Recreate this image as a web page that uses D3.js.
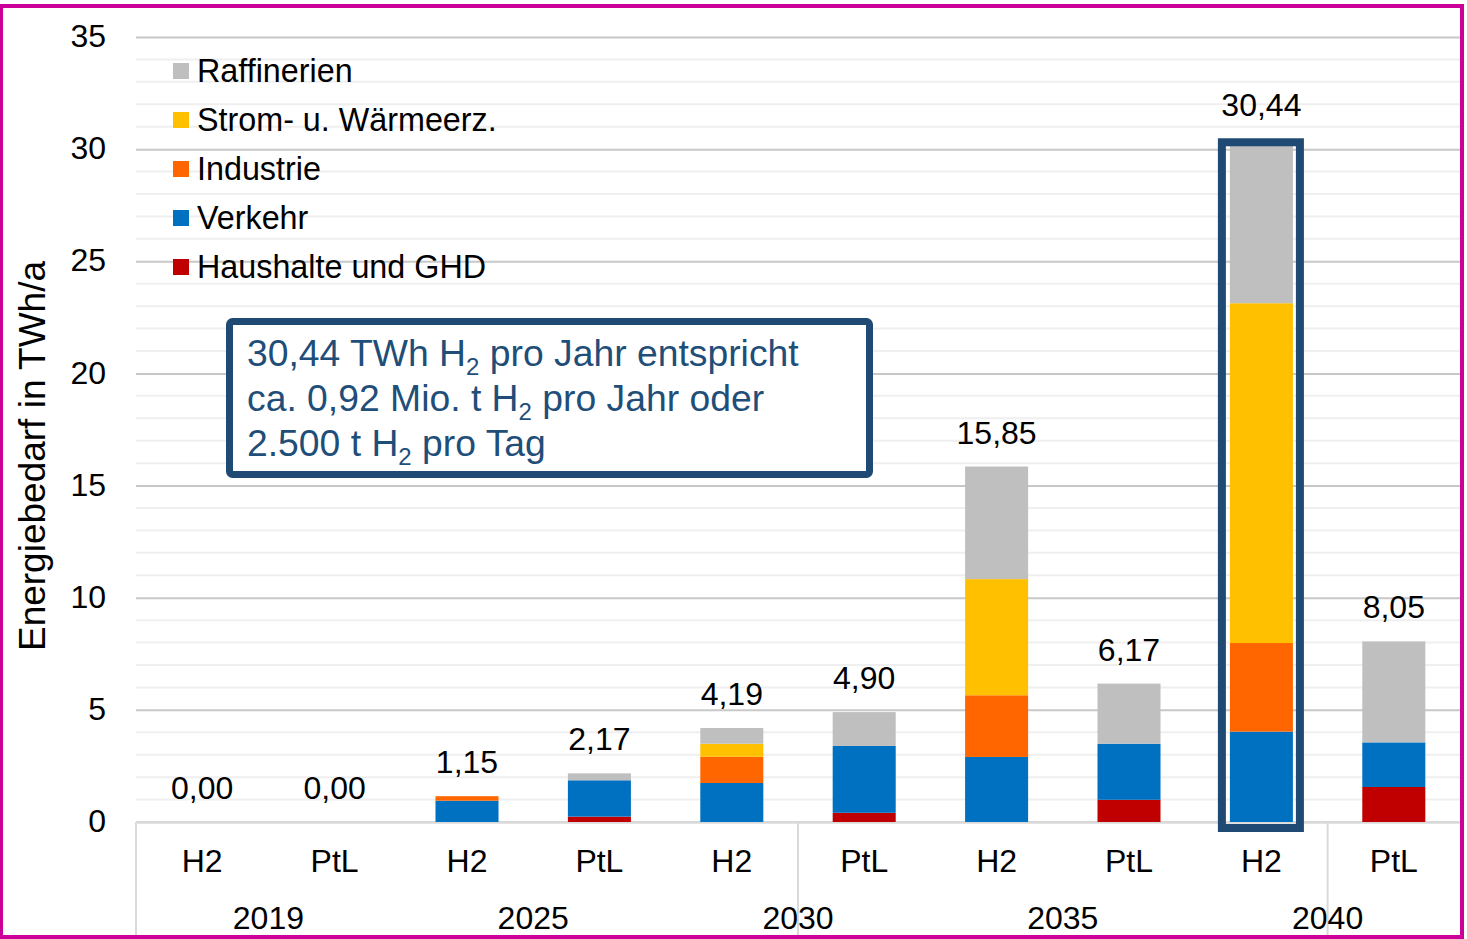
<!DOCTYPE html>
<html>
<head>
<meta charset="utf-8">
<script src="https://cdn.jsdelivr.net/npm/d3@7"></script>
<style>
  body { margin: 0; background: #fff; }
  svg text { font-family: "Liberation Sans", Arial, sans-serif; }
</style>
</head>
<body>
<svg id="chart" width="1467" height="939"></svg>
<script>
// categories on the x axis (two per year)
var categories = ["H2", "PtL", "H2", "PtL", "H2", "PtL", "H2", "PtL", "H2", "PtL"];
var years = ["2019", "2025", "2030", "2035", "2040"];
var yTicks = [0, 5, 10, 15, 20, 25, 30, 35];

// series values, bottom to top in the stack
var haushalte   = [0, 0, 0,    0.24, 0,    0.41, 0,    0.99, 0,     1.56];
var verkehr     = [0, 0, 0.95, 1.62, 1.74, 2.98, 2.90, 2.50, 4.03,  1.99];
var industrie   = [0, 0, 0.20, 0,    1.17, 0,    2.75, 0,    3.95,  0];
var strom       = [0, 0, 0,    0,    0.58, 0,    5.18, 0,    15.15, 0];
var raffinerien = [0, 0, 0,    0.31, 0.70, 1.51, 5.02, 2.68, 7.31,  4.50];

var seriesNames = ["Haushalte und GHD", "Verkehr", "Industrie", "Strom- u. Wärmeerz.", "Raffinerien"];
var seriesValues = [haushalte, verkehr, industrie, strom, raffinerien];
var colors = ["#C00000", "#0070C0", "#FF6600", "#FFC000", "#BFBFBF"];

var svg = d3.select("#chart");

var plotLeft = 136, plotRight = 1460, plotTop = 37, plotBottom = 822;

// build rows for the stack
var rows = categories.map(function(c, i) {
  var r = { idx: i };
  seriesNames.forEach(function(s, j) { r[s] = seriesValues[j][i]; });
  return r;
});
var stacked = d3.stack().keys(seriesNames)(rows);

var x = d3.scaleBand()
  .domain(d3.range(categories.length))
  .range([plotLeft, plotRight])
  .padding(0);
var barW = x.bandwidth() * 0.476;

var y = d3.scaleLinear().domain([0, 35]).range([plotBottom, plotTop]);

// minor gridlines
svg.append("g")
  .selectAll("line")
  .data(d3.range(0, 36, 1).filter(function(v) { return v % 5 != 0; }))
  .enter()
  .append("line")
  .attr("x1", plotLeft).attr("x2", plotRight)
  .attr("y1", function(d) { return y(d); })
  .attr("y2", function(d) { return y(d); })
  .style("stroke", "#efefef")
  .style("stroke-width", 2);

// major gridlines + tick labels
var yAxis = d3.axisLeft(y).tickValues(yTicks).tickSize(-(plotRight - plotLeft)).tickFormat(d3.format("d"));
var gy = svg.append("g").attr("transform", "translate(" + plotLeft + ",0)").call(yAxis);
gy.select(".domain").remove();
gy.selectAll(".tick line").style("stroke", "#c8c8c8").style("stroke-width", 2);
gy.selectAll(".tick text")
  .attr("x", -30)
  .attr("dy", "0.3em")
  .style("font-size", "32px")
  .style("fill", "#000");

// bottom axis baseline and category separators
svg.append("line")
  .attr("x1", plotLeft).attr("x2", plotRight)
  .attr("y1", plotBottom).attr("y2", plotBottom)
  .style("stroke", "#d9d9d9").style("stroke-width", 2);

var separators = [0, 5, 9];
svg.append("g")
  .selectAll("line")
  .data(separators)
  .enter()
  .append("line")
  .attr("x1", function(d) { return x(d); })
  .attr("x2", function(d) { return x(d); })
  .attr("y1", plotBottom).attr("y2", 939)
  .style("stroke", "#d9d9d9").style("stroke-width", 2);

// bars
svg.append("g")
  .selectAll("g")
  .data(stacked)
  .enter()
  .append("g")
  .attr("fill", function(d, i) { return colors[i]; })
  .selectAll("rect")
  .data(function(d) { return d; })
  .enter()
  .append("rect")
  .attr("x", function(d) { return x(d.data.idx) + (x.bandwidth() - barW) / 2; })
  .attr("y", function(d) { return y(d[1]); })
  .attr("width", barW)
  .attr("height", function(d) { return y(d[0]) - y(d[1]); });

// total labels
var fmt = d3.formatLocale({ decimal: ",", thousands: ".", grouping: [3], currency: ["", "€"] }).format(".2f");
var totals = rows.map(function(r) { return d3.sum(seriesNames, function(s) { return r[s]; }); });

svg.append("g")
  .selectAll("text")
  .data(totals)
  .enter()
  .append("text")
  .attr("x", function(d, i) { return x(i) + x.bandwidth() / 2; })
  .attr("y", function(d) { return y(d) - 23; })
  .attr("text-anchor", "middle")
  .style("font-size", "32px")
  .style("fill", "#000")
  .text(function(d) { return fmt(d); });

// category labels
svg.append("g")
  .selectAll("text")
  .data(categories)
  .enter()
  .append("text")
  .attr("x", function(d, i) { return x(i) + x.bandwidth() / 2; })
  .attr("y", 872)
  .attr("text-anchor", "middle")
  .style("font-size", "32px")
  .text(function(d) { return d; });

// year labels (sit on the boundaries 1, 3, 5, 7, 9)
svg.append("g")
  .selectAll("text")
  .data(years)
  .enter()
  .append("text")
  .attr("x", function(d, i) { return x(i * 2 + 1); })
  .attr("y", 929)
  .attr("text-anchor", "middle")
  .style("font-size", "32px")
  .text(function(d) { return d; });

// highlight box around 2040 H2
var hi = 8;
svg.append("rect")
  .attr("x", x(hi) + (x.bandwidth() - barW) / 2 - 8)
  .attr("y", y(totals[hi]) + 3)
  .attr("width", barW + 15)
  .attr("height", y(0) + 6 - (y(totals[hi]) + 3))
  .style("fill", "none")
  .style("stroke", "#1F4A73")
  .style("stroke-width", 8);

// y axis title
svg.append("text")
  .attr("transform", "translate(45,456) rotate(-90)")
  .attr("text-anchor", "middle")
  .style("font-size", "37px")
  .text("Energiebedarf in TWh/a");

// legend (top to bottom)
var legendOrder = [4, 3, 2, 1, 0];
var legend = svg.append("g")
  .selectAll("g")
  .data(legendOrder)
  .enter()
  .append("g")
  .attr("transform", function(d, i) { return "translate(173," + (71 + i * 49) + ")"; });
legend.append("rect")
  .attr("x", 0).attr("y", -8)
  .attr("width", 16).attr("height", 16)
  .attr("fill", function(d) { return colors[d]; });
legend.append("text")
  .attr("x", 24)
  .attr("dy", "0.35em")
  .style("font-size", "32.3px")
  .text(function(d) { return seriesNames[d]; });

// annotation box
svg.append("rect")
  .attr("x", 229.5).attr("y", 321.5)
  .attr("width", 640).attr("height", 153)
  .attr("rx", 3)
  .style("fill", "#fff")
  .style("stroke", "#1F4A73")
  .style("stroke-width", 7);

var noteLines = [
  ["30,44 TWh H", "2", " pro Jahr entspricht"],
  ["ca. 0,92 Mio. t H", "2", " pro Jahr oder"],
  ["2.500 t H", "2", " pro Tag"]
];
var note = svg.append("g")
  .selectAll("text")
  .data(noteLines)
  .enter()
  .append("text")
  .attr("x", 247)
  .attr("y", function(d, i) { return 366 + i * 45; })
  .style("font-size", "37.3px")
  .style("fill", "#1F4E79");
note.append("tspan").text(function(d) { return d[0]; });
note.append("tspan").attr("dy", 9).style("font-size", "24px").text(function(d) { return d[1]; });
note.append("tspan").attr("dy", -9).text(function(d) { return d[2]; });

// outer frame
svg.append("rect")
  .attr("x", 1).attr("y", 6)
  .attr("width", 1461).attr("height", 931)
  .style("fill", "none")
  .style("stroke", "#CC0099")
  .style("stroke-width", 4);
</script>
</body>
</html>
